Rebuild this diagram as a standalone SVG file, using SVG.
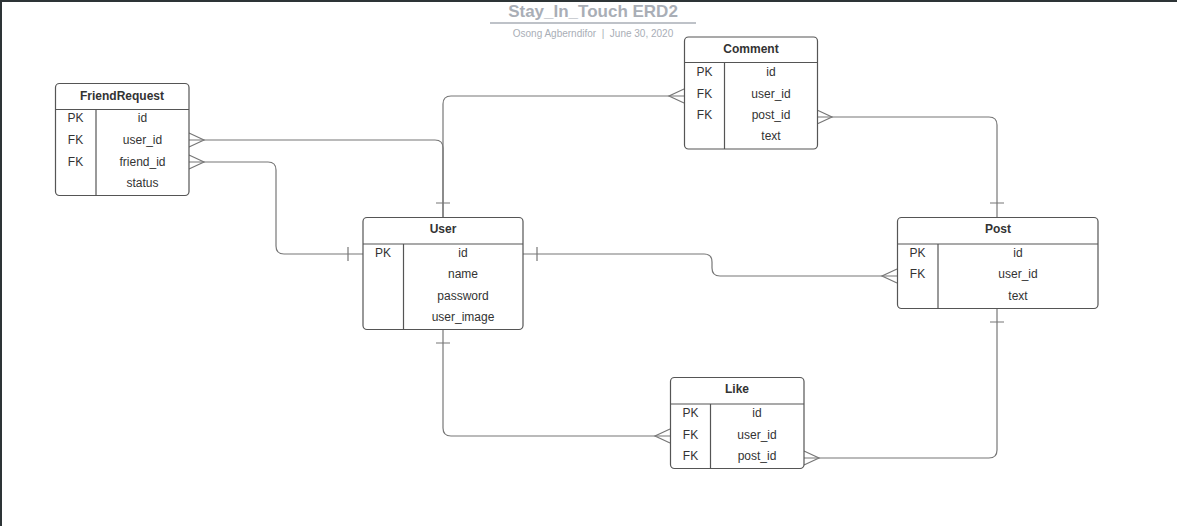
<svg xmlns="http://www.w3.org/2000/svg" width="1177" height="526" viewBox="0 0 1177 526">
<style>
.box{fill:#fff;stroke:#555;stroke-width:1.2}
.ln{stroke:#555;stroke-width:1.2;fill:none}
.t{font-family:"Liberation Sans",Arial,sans-serif;font-size:12px;fill:#333;text-anchor:middle}
.h{font-weight:bold}
.c{stroke:#777;stroke-width:1.2;fill:none}
</style>
<rect x="0" y="0" width="1177" height="526" fill="#fff"/>
<rect x="0" y="0" width="1177" height="2" fill="#2d3436"/>
<rect x="0" y="0" width="2" height="526" fill="#2d3436"/>
<g id="title">
<text x="593" y="17" font-family="Liberation Sans,Arial,sans-serif" font-size="17" font-weight="bold" fill="#a9aeb6" text-anchor="middle">Stay_In_Touch ERD2</text>
<line x1="490" y1="23" x2="696" y2="23" stroke="#a9aeb6" stroke-width="1.5"/>
<text x="593" y="37" font-family="Liberation Sans,Arial,sans-serif" font-size="10" fill="#a9aeb6" text-anchor="middle" xml:space="preserve" style="white-space:pre">Osong Agberndifor  |  June 30, 2020</text>
</g>
<g id="connectors">
<path class="c" d="M443,217 V104 Q443,96 451,96 H684"/>
<path class="c" d="M189,140 H435 Q443,140 443,148 V217"/>
<path class="c" d="M189,162 H268 Q276,162 276,170 V246 Q276,254 284,254 H363"/>
<path class="c" d="M523,254 H704 Q712,254 712,262 V268 Q712,276 720,276 H897"/>
<path class="c" d="M817,117 H989 Q997,117 997,125 V217"/>
<path class="c" d="M443,329 V428 Q443,436 451,436 H670"/>
<path class="c" d="M804,458 H989 Q997,458 997,450 V308"/>
<path class="c" d="M436,203 H450 M348,247 V261 M537,247 V261 M436,343 H450 M990,203 H1004 M990,322 H1004"/>
<path class="c" d="M684,89 L669,96 L684,103 M189,133 L204,140 L189,147 M189,155 L204,162 L189,169 M897,269 L882,276 L897,283 M817,110 L832,117 L817,124 M670,429 L655,436 L670,443 M804,451 L819,458 L804,465"/>
</g>
<g id="FriendRequest">
<rect class="box" x="55.5" y="83.5" width="133.5" height="112" rx="4"/>
<line class="ln" x1="55.5" y1="109.5" x2="189" y2="109.5"/>
<line class="ln" x1="96" y1="109.5" x2="96" y2="195.5"/>
<text class="t h" x="122" y="100">FriendRequest</text>
<text class="t" x="75.5" y="122">PK</text><text class="t" x="142.5" y="122">id</text>
<text class="t" x="75.5" y="144">FK</text><text class="t" x="142.5" y="144">user_id</text>
<text class="t" x="75.5" y="166">FK</text><text class="t" x="142.5" y="166">friend_id</text>
<text class="t" x="142.5" y="187">status</text>
</g>
<g id="Comment">
<rect class="box" x="684.5" y="37" width="133" height="112" rx="4"/>
<line class="ln" x1="684.5" y1="62.5" x2="817.5" y2="62.5"/>
<line class="ln" x1="724.5" y1="62.5" x2="724.5" y2="149"/>
<text class="t h" x="751" y="53">Comment</text>
<text class="t" x="704.5" y="76">PK</text><text class="t" x="771" y="76">id</text>
<text class="t" x="704.5" y="98">FK</text><text class="t" x="771" y="98">user_id</text>
<text class="t" x="704.5" y="119">FK</text><text class="t" x="771" y="119">post_id</text>
<text class="t" x="771" y="140">text</text>
</g>
<g id="User">
<rect class="box" x="363" y="217.5" width="160" height="112" rx="4"/>
<line class="ln" x1="363" y1="244" x2="523" y2="244"/>
<line class="ln" x1="403.5" y1="244" x2="403.5" y2="329.5"/>
<text class="t h" x="443" y="233">User</text>
<text class="t" x="383" y="257">PK</text><text class="t" x="463" y="257">id</text>
<text class="t" x="463" y="278">name</text>
<text class="t" x="463" y="300">password</text>
<text class="t" x="463" y="321">user_image</text>
</g>
<g id="Post">
<rect class="box" x="897.5" y="217.5" width="200.5" height="91" rx="4"/>
<line class="ln" x1="897.5" y1="244" x2="1098" y2="244"/>
<line class="ln" x1="938" y1="244" x2="938" y2="308.5"/>
<text class="t h" x="998" y="233">Post</text>
<text class="t" x="917.5" y="257">PK</text><text class="t" x="1018" y="257">id</text>
<text class="t" x="917.5" y="278">FK</text><text class="t" x="1018" y="278">user_id</text>
<text class="t" x="1018" y="300">text</text>
</g>
<g id="Like">
<rect class="box" x="670.5" y="377.5" width="133.5" height="91" rx="4"/>
<line class="ln" x1="670.5" y1="404" x2="804" y2="404"/>
<line class="ln" x1="710.5" y1="404" x2="710.5" y2="468.5"/>
<text class="t h" x="737" y="393">Like</text>
<text class="t" x="690.5" y="417">PK</text><text class="t" x="757" y="417">id</text>
<text class="t" x="690.5" y="439">FK</text><text class="t" x="757" y="439">user_id</text>
<text class="t" x="690.5" y="460">FK</text><text class="t" x="757" y="460">post_id</text>
</g>
</svg>
